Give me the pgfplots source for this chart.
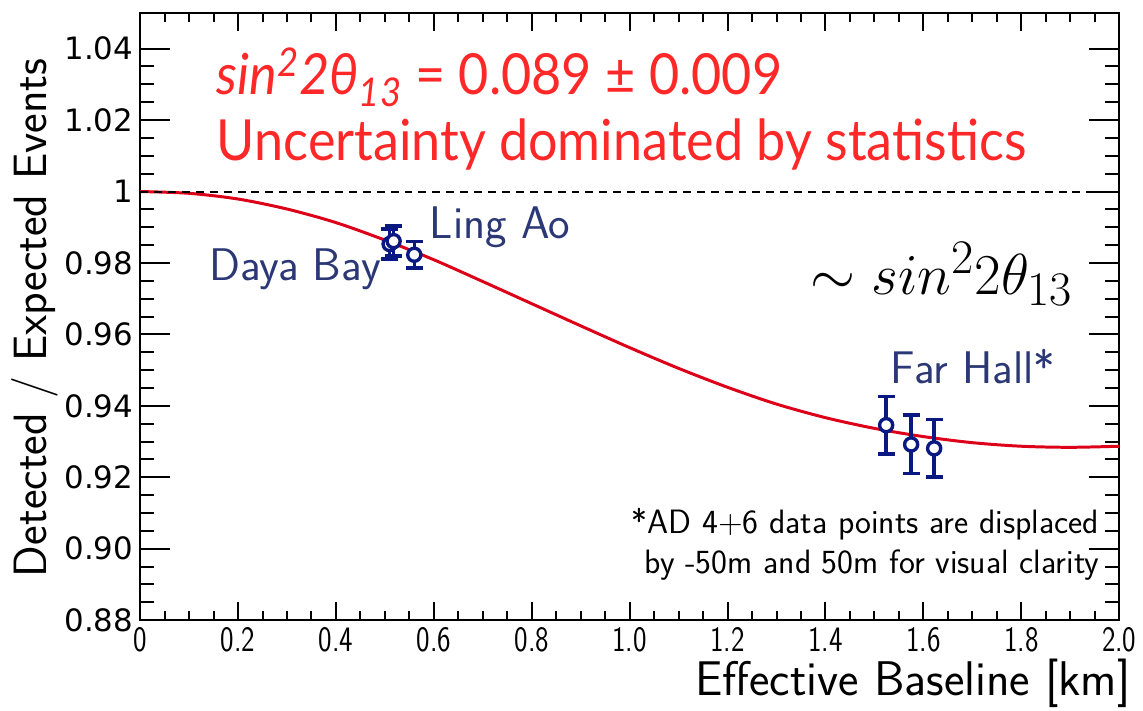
\documentclass[border=0pt]{standalone}
\usepackage{pgfplots}
\pgfplotsset{compat=1.18}
\usepackage{fontspec}
\usepackage{graphicx}
\newfontfamily\tickfont{DejaVu Sans}
\newfontfamily\redfont{Lato}
\definecolor{curvered}{RGB}{220,0,25}
\definecolor{textred}{RGB}{255,40,40}
\definecolor{navypt}{RGB}{10,25,130}
\definecolor{labelblue}{RGB}{43,56,117}

% oscillation expectation (ratio vs. baseline)
\pgfplotstableread{
L     r
0.00  1.0000
0.10  0.9995
0.20  0.9979
0.30  0.9951
0.40  0.9913
0.50  0.9864
0.60  0.9809
0.70  0.9748
0.80  0.9686
0.90  0.9624
1.00  0.9563
1.10  0.9505
1.20  0.9452
1.30  0.9405
1.40  0.9367
1.50  0.9337
1.60  0.9314
1.70  0.9297
1.80  0.9287
1.90  0.9284
2.00  0.9287
}\curve

% measured ratios per detector
\pgfplotstableread{
x      y       e
0.5096 0.9853  0.0042
0.5178 0.9861  0.0042
0.5600 0.9823  0.0037
1.5240 0.9346  0.0081
1.5750 0.9292  0.0082
1.6220 0.9281  0.0080
}\points

\newcommand{\xl}[1]{\scalebox{0.8}[1]{#1}}
\newcommand{\red}[1]{\scalebox{0.92}[1]{#1}}

\begin{document}
\begin{tikzpicture}
\begin{axis}[
  name=ax,
  scale only axis, width=492.5pt, height=305.5pt,
  xmin=0, xmax=2, ymin=0.88, ymax=1.05,
  clip=false,
  axis line style={line width=1.2pt},
  tick pos=both, tick align=inside,
  tick style={line width=1pt, black},
  xtick={0,0.2,0.4,0.6,0.8,1.0,1.2,1.4,1.6,1.8,2.0},
  xticklabels={\xl{0},\xl{0.2},\xl{0.4},\xl{0.6},\xl{0.8},\xl{1.0},\xl{1.2},\xl{1.4},\xl{1.6},\xl{1.8},\xl{2.0}},
  minor x tick num=3,
  ytick={0.88,0.90,0.92,0.94,0.96,0.98,1.00,1.02,1.04},
  yticklabels={0.88,0.90,0.92,0.94,0.96,0.98,1,1.02,1.04},
  minor y tick num=3,
  xtick style={/pgfplots/major tick length=9pt,/pgfplots/minor tick length=4.5pt},
  ytick style={/pgfplots/major tick length=15pt,/pgfplots/minor tick length=7pt},
  xticklabel style={font=\fontsize{18}{18}\sffamily},
  yticklabel style={font=\fontsize{15.5}{15.5}\tickfont},
  xlabel={Effective Baseline [km]},
  ylabel={Detected / Expected Events},
  xlabel style={font=\fontsize{24.5}{24.5}\sffamily, inner sep=0pt, at={(axis description cs:1.012,-0.1047)}, anchor=east},
  ylabel style={font=\fontsize{23.5}{23.5}\sffamily, inner sep=0pt, at={(axis description cs:-0.1076,0.498)}, anchor=center},
]
\addplot[curvered, line width=1.5pt, smooth] table[x=L, y=r] {\curve};
\addplot[black, line width=1pt, dash pattern=on 4pt off 3pt] coordinates {(0,1) (2,1)};
\addplot[navypt, line width=1.7pt, only marks, mark=*, mark size=3.3pt,
  mark options={fill=white, line width=1.7pt},
  error bars/.cd, y dir=both, y explicit,
  error bar style={line width=1.7pt},
  error mark options={rotate=90, mark size=4.3pt, line width=1.7pt}]
  table[x=x, y=y, y error=e] {\points};

\node[anchor=base west, text=textred, font=\fontsize{28.5}{28.5}\redfont, inner sep=0pt]
  at (axis cs:0.156,1.0272) {\red{\textit{sin}\textsuperscript{\textit{2}}\textit{2θ}\textsubscript{\textit{13}} = 0.089 ± 0.009}};
\node[anchor=base west, text=textred, font=\fontsize{28.5}{28.5}\redfont, inner sep=0pt]
  at (axis cs:0.156,1.0086) {\red{Uncertainty dominated by statistics}};
\node[anchor=base west, font=\fontsize{24.88}{24.88}\selectfont, inner sep=0pt]
  at (axis cs:1.3685,0.9711) {\scalebox{1.17}{$\sim sin^2 2\theta_{13}$}};
\node[anchor=base west, text=labelblue, font=\fontsize{23}{23}\sffamily, inner sep=0pt]
  at (axis cs:0.591,0.98694) {Ling Ao};
\node[anchor=base west, text=labelblue, font=\fontsize{23}{23}\sffamily, inner sep=0pt]
  at (axis cs:0.140,0.975) {Daya Bay};
\node[anchor=base west, text=labelblue, font=\fontsize{23}{23}\sffamily, inner sep=0pt]
  at (axis cs:1.533,0.9464) {Far Hall*};
\node[anchor=base east, font=\fontsize{17}{17}\sffamily, inner sep=0pt]
  at (axis cs:1.960,0.9044) {*AD 4+6 data points are displaced};
\node[anchor=base east, font=\fontsize{17}{17}\sffamily, inner sep=0pt]
  at (axis cs:1.960,0.8931) {by -50m and 50m for visual clarity};
\end{axis}
\path ([xshift=-70.5pt,yshift=-45.5pt]ax.south west) rectangle ([xshift=8.5pt,yshift=6.5pt]ax.north east);
\end{tikzpicture}
\end{document}
